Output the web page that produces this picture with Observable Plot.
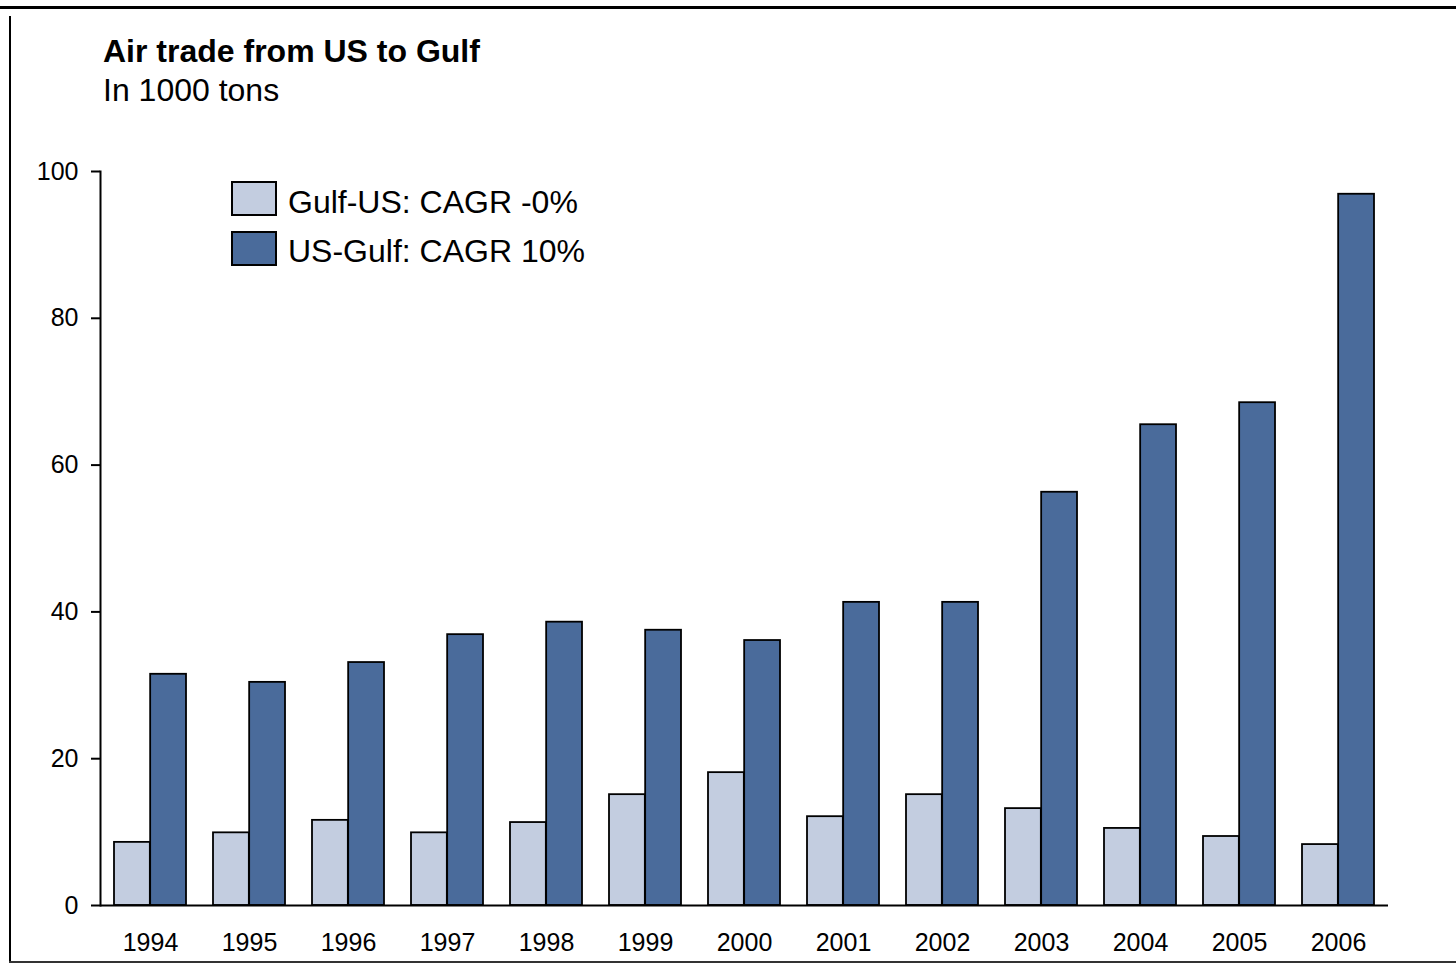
<!DOCTYPE html>
<html>
<head>
<meta charset="utf-8">
<script src="https://cdn.jsdelivr.net/npm/d3@7"></script>
<script src="https://cdn.jsdelivr.net/npm/@observablehq/plot@0.6"></script>
<style>
  body { margin: 0; background: #fff; font-family: "Liberation Sans", Arial, sans-serif; }
  #wrap { position: relative; width: 1456px; height: 964px; overflow: hidden; background: #fff; }
  #chart { position: absolute; left: 0; top: 0; }
  .txt { position: absolute; white-space: nowrap; line-height: 1; color: #000; }
  #title { left: 103px; top: 35px; font-size: 32px; font-weight: bold; }
  #subtitle { left: 103px; top: 74px; font-size: 32px; }
  .sw { position: absolute; left: 231px; width: 42px; height: 31px; border: 2px solid #000; }
  .lt { left: 288px; font-size: 32px; }
  .fr { position: absolute; background: #000; }
</style>
</head>
<body>
<div id="wrap">
  <div id="chart"></div>
  <div id="title" class="txt">Air trade from US to Gulf</div>
  <div id="subtitle" class="txt">In 1000 tons</div>
  <div id="legend"></div>
  <div class="fr" style="left:0;top:6px;width:1456px;height:3px;"></div>
  <div class="fr" style="left:9px;top:16px;width:2px;height:947px;"></div>
  <div class="fr" style="left:9px;top:961px;width:1447px;height:2px;background:#333;"></div>
</div>
<script>
const years = ["1994","1995","1996","1997","1998","1999","2000","2001","2002","2003","2004","2005","2006"];
const seriesKeys = ["Gulf-US", "US-Gulf"];
const seriesLabels = ["Gulf-US: CAGR -0%", "US-Gulf: CAGR 10%"];
const seriesColors = ["#c3cde0", "#4a6b9b"];
const gulfUS = [8.6, 9.9, 11.6, 9.9, 11.3, 15.1, 18.1, 12.1, 15.1, 13.2, 10.5, 9.4, 8.3];
const usGulf = [31.5, 30.4, 33.1, 36.9, 38.6, 37.5, 36.1, 41.3, 41.3, 56.3, 65.5, 68.5, 96.9];
const yTicks = [0, 20, 40, 60, 80, 100];

const gulfUSData = years.map((yr, i) => ({year: yr, series: seriesKeys[0], value: gulfUS[i]}));
const usGulfData = years.map((yr, i) => ({year: yr, series: seriesKeys[1], value: usGulf[i]}));

const W = 1456, H = 964, mL = 100, mR = 68, mT = 171, mB = 59;
const padIn = 0.27, padOut = 0.135;
const step = (W - mL - mR) / (years.length - padIn + 2 * padOut);
const half = step * (1 - padIn) / 2; // each series takes half of a year's band

const chart = Plot.plot({
  width: W,
  height: H,
  marginTop: mT,
  marginBottom: mB,
  marginLeft: mL,
  marginRight: mR,
  style: {fontFamily: "'Liberation Sans', Arial, sans-serif", fontSize: "25px", background: "transparent", color: "#000"},
  x: {domain: years, paddingInner: padIn, paddingOuter: padOut, label: null},
  y: {domain: [0, 100], label: null},
  color: {domain: seriesKeys, range: seriesColors},
  marks: [
    Plot.barY(gulfUSData, {x: "year", y: "value", fill: "series", stroke: "#000", strokeWidth: 1.8, insetRight: half}),
    Plot.barY(usGulfData, {x: "year", y: "value", fill: "series", stroke: "#000", strokeWidth: 1.8, insetLeft: half}),
    Plot.ruleY([0], {stroke: "#000", strokeWidth: 2}),
    Plot.frame({anchor: "left", stroke: "#000", strokeWidth: 2}),
    Plot.axisY({ticks: yTicks, tickSize: 9, tickPadding: 13, strokeWidth: 2, label: null, fontSize: 25}),
    Plot.axisX({anchor: "bottom", tickSize: 0, tickPadding: 28, label: null, fontSize: 25})
  ]
});
document.getElementById("chart").appendChild(chart);

const legend = document.getElementById("legend");
const swTops = [181, 231];
const txtTops = [186, 235];
seriesKeys.forEach((k, i) => {
  const sw = document.createElement("div");
  sw.className = "sw";
  sw.style.top = swTops[i] + "px";
  sw.style.background = seriesColors[i];
  legend.appendChild(sw);
  const t = document.createElement("div");
  t.className = "txt lt";
  t.style.top = txtTops[i] + "px";
  t.textContent = seriesLabels[i];
  legend.appendChild(t);
});
</script>
</body>
</html>
